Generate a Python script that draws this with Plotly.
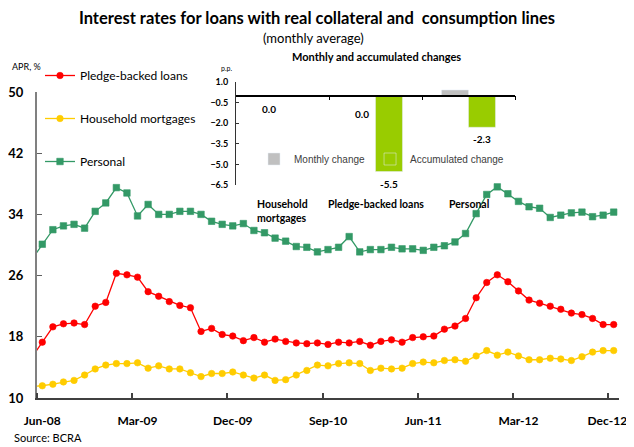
import plotly.graph_objects as go
import pandas as pd

# ---------------- data ----------------
# monthly categories: May-08 (just left of the axis start) through Dec-12
months = pd.date_range("2008-05-01", "2012-12-01", freq="MS").strftime("%b-%y").tolist()

pledge_backed = [15.3,
    17.3, 19.3, 19.7, 19.8, 19.6, 22.0, 22.5, 26.3, 26.1, 25.8, 23.9, 23.3, 22.6, 22.1,
    21.8, 18.7, 19.1, 18.3, 18.1, 17.5, 17.9, 17.3, 17.7, 17.4, 17.2, 17.1, 17.2, 17.0,
    17.3, 17.2, 17.4, 16.9, 17.4, 17.6, 17.3, 17.9, 18.0, 18.1, 19.0, 19.4, 20.4, 23.1,
    25.1, 26.1, 25.2, 24.0, 22.8, 22.4, 22.0, 21.6, 21.1, 20.9, 20.4, 19.6, 19.6]
household_mortgages = [11.5,
    11.6, 11.8, 12.1, 12.3, 13.0, 13.8, 14.3, 14.5, 14.5, 14.6, 13.9, 14.2, 13.8, 13.8,
    13.3, 12.8, 13.2, 13.2, 13.4, 13.0, 12.6, 13.0, 12.3, 12.4, 13.0, 13.6, 14.3, 14.2,
    14.5, 14.6, 14.5, 13.6, 13.9, 13.8, 13.9, 14.5, 14.7, 14.6, 14.9, 15.0, 14.8, 15.5,
    16.2, 15.6, 16.0, 15.5, 15.0, 15.0, 15.2, 15.1, 14.9, 15.4, 16.0, 16.2, 16.2]
personal = [28.1,
    30.1, 32.0, 32.5, 32.7, 32.2, 34.4, 35.5, 37.5, 36.8, 33.8, 35.3, 34.0, 34.0, 34.4,
    34.4, 34.0, 33.1, 32.7, 32.5, 32.8, 31.9, 31.6, 30.9, 30.5, 29.8, 29.7, 29.1, 29.4,
    29.7, 31.1, 29.1, 29.4, 29.4, 29.7, 29.5, 29.5, 29.3, 29.7, 29.9, 30.4, 31.5, 34.1,
    36.6, 37.6, 36.7, 35.7, 35.0, 34.8, 33.6, 33.9, 34.2, 34.3, 33.7, 33.9, 34.3]

x_tick_labels = ["Jun-08", "Mar-09", "Dec-09", "Sep-10", "Jun-11", "Mar-12", "Dec-12"]
y_ticks = [10, 18, 26, 34, 42, 50]

inset_categories = ["Household<br>mortgages", "Pledge-backed loans", "Personal"]
monthly_change = [0.0, 0.0, 0.4]
accumulated_change = [0.0, -5.5, -2.3]
inset_y_ticks = [1.0, -0.5, -2.0, -3.5, -5.0, -6.5]

# ---------------- layout helpers ----------------
# the page body adds an 8px margin, so the figure is laid out 8px smaller
OFF = 8
W, H = 634 - OFF, 447 - OFF
ML, MR, MT, MB = 37 - OFF, 15, 80 - OFF, 49
PW, PH = W - ML - MR, H - MT - MB
def px(x):  # screen pixel -> paper x
    return (x - OFF - ML) / PW
def py(y):  # screen pixel -> paper y
    return (H - MB - (y - OFF)) / PH

FONT = "Lato"
xidx = list(range(-1, len(months) - 1))          # Jun-08 -> 0
tickvals = [months.index(t) - 1 for t in x_tick_labels]
# nudge the last label slightly left so it stays inside the visible page edge
tickvals[-1] -= 0.6

fig = go.Figure()

series = [
    ("Pledge-backed loans", pledge_backed, "#FF0000", "circle"),
    ("Household mortgages", household_mortgages, "#FFCC00", "circle"),
    ("Personal", personal, "#339966", "square"),
]
for name, vals, col, sym in series:
    fig.add_trace(go.Scatter(
        x=xidx, y=vals, name=name, mode="lines+markers",
        line=dict(color=col, width=1.3),
        marker=dict(color=col, size=6.5, symbol=sym, line=dict(width=0.6, color=col)),
        legendgroup=name, legend="legend",
        hoverinfo="skip",
    ))

# inset bars
bargap = 0.42
fig.add_trace(go.Bar(x=[0, 1, 2], y=monthly_change, name="Monthly change",
                     marker_color="#C0C0C0", xaxis="x2", yaxis="y2", legend="legend2"))
fig.add_trace(go.Bar(x=[0, 1, 2], y=accumulated_change, name="Accumulated change",
                     marker_color="#99CC00", xaxis="x2", yaxis="y2", legend="legend2"))

ydom_main = [0, py(92)]
inset_xdom = [px(236), px(515)]
inset_ydom = [py(185.3), py(81.7)]
zero_pos = inset_ydom[0] + (0 - (-6.5)) / 7.5 * (inset_ydom[1] - inset_ydom[0])

fig.update_layout(
    width=W, height=H,
    margin=dict(l=ML, r=MR, t=MT, b=MB, autoexpand=False),
    paper_bgcolor="white", plot_bgcolor="rgba(0,0,0,0)",
    font=dict(family=FONT, color="black"),
    barmode="group", bargap=bargap, bargroupgap=0,
    showlegend=True,
    title=dict(text="Interest rates for loans with real collateral and  consumption lines",
               x=(317 - OFF) / W, xanchor="center", y=1 - (18.5 - OFF) / H, yanchor="middle",
               font=dict(family=FONT, size=16.5, weight="bold", color="black")),
    xaxis=dict(range=[-0.5, len(months) - 1.5], showgrid=False, zeroline=False,
               showline=True, linecolor="#404040", linewidth=2, automargin=False,
               tickmode="array", tickvals=tickvals, ticktext=x_tick_labels, ticks="",
               tickfont=dict(family=FONT, size=12, weight="bold"),
               ticklabeloverflow="allow",
               minor=dict(ticks="inside", tick0=-0.5, dtick=9, ticklen=5,
                          tickcolor="#404040", tickwidth=1.5, showgrid=False),
               ticklabelstandoff=11),
    yaxis=dict(domain=ydom_main, range=[10, 50], tickmode="array", tickvals=y_ticks,
               showgrid=False, zeroline=False, showline=True, linecolor="#808080",
               linewidth=2, ticks="inside", ticklen=5, tickcolor="#606060", automargin=False,
               tickfont=dict(family=FONT, size=13, weight="bold"),
               ticklabelstandoff=9),
    xaxis2=dict(domain=inset_xdom, range=[-0.5, 2.5], anchor="free", position=zero_pos,
                showgrid=False, zeroline=False, showline=True, linecolor="black",
                linewidth=1.5, tickmode="array", tickvals=[0.5, 1.5, 2.5], ticks="outside",
                ticklen=4, tickcolor="black", showticklabels=False),
    yaxis2=dict(domain=inset_ydom, range=[-6.5, 1.0], anchor="x2", tickmode="array",
                tickvals=inset_y_ticks, tickformat=".1f", showgrid=False, zeroline=False,
                showline=True, linecolor="#333333", linewidth=1, ticks="inside",
                ticklen=3, tickcolor="#333333",
                tickfont=dict(family=FONT, size=9, weight="bold"), ticklabelstandoff=5),
    legend=dict(x=px(40), y=py(61), xanchor="left", yanchor="top",
                bgcolor="rgba(0,0,0,0)", tracegroupgap=24,
                font=dict(family=FONT, size=12, color="black")),
    legend2=dict(x=px(254), y=py(159), xanchor="left", yanchor="middle",
                 orientation="h", bgcolor="rgba(0,0,0,0)",
                 font=dict(family="Liberation Sans", size=10, color="#404040")),
)

# value labels on the inset bars
half = (1 - bargap) / 4
monthly_off = [-0.99, -1.36, 0.85]
accum_off = [1.54, -0.93, -0.87]
for i in range(3):
    for v, off, dx in ((monthly_change[i], monthly_off[i], -half),
                       (accumulated_change[i], accum_off[i], half)):
        fig.add_annotation(x=i + dx, y=v + off, xref="x2", yref="y2",
                           text=f"{v:.1f}", showarrow=False,
                           font=dict(family=FONT, size=10, weight="bold"))

# inset category labels
for i, c in enumerate(inset_categories):
    fig.add_annotation(x=i, y=py(196), xref="x2", yref="paper", text=c,
                       showarrow=False, yanchor="top", align="left",
                       font=dict(family=FONT, size=10.5, weight="bold"))

texts = [
    ("(monthly average)", 313, 38, "center", dict(size=13)),
    ("APR, %", 10, 66, "left", dict(size=9)),
    ("Source: BCRA", 12, 437, "left", dict(size=11)),
    ("p.p.", 226, 68, "center", dict(size=7)),
    ("Monthly and accumulated changes", 376, 57, "center", dict(size=11, weight="bold")),
]
for t, x, y, xa, f in texts:
    fig.add_annotation(x=px(x), y=py(y), xref="paper", yref="paper", text=t,
                       showarrow=False, xanchor=xa, yanchor="middle",
                       font=dict(family=FONT, color="black", **f))

fig.write_html("out.html")
